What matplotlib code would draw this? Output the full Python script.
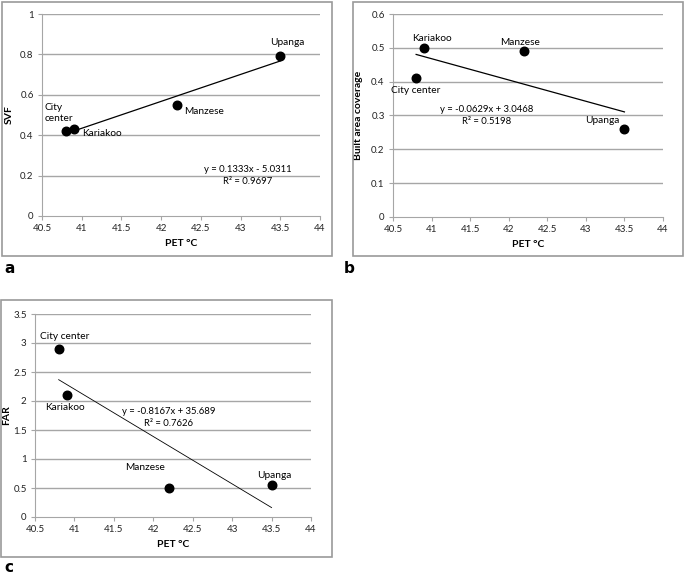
import numpy as np
import matplotlib.pyplot as plt
from matplotlib.patches import Rectangle

plt.rcParams['font.family'] = ['Lato', 'DejaVu Sans']

# data
sites = ["City center", "Kariakoo", "Manzese", "Upanga"]
pet = [40.8, 40.9, 42.2, 43.5]
svf = [0.42, 0.43, 0.55, 0.79]
bac = [0.41, 0.50, 0.49, 0.26]
far = [2.9, 2.1, 0.5, 0.55]

fits = {"a": (0.1333, -5.0311, 0.9697),
        "b": (-0.0629, 3.0468, 0.5198),
        "c": (-0.8167, 35.689, 0.7626)}

x_ticks = [40.5, 41, 41.5, 42, 42.5, 43, 43.5, 44]
x_ticklabels = ["40.5", "41", "41.5", "42", "42.5", "43", "43.5", "44"]

W, H = 685, 577
fig = plt.figure(figsize=(W / 100, H / 100), dpi=100)

def px_box(x0, y0, x1, y1):
    return [x0 / W, 1 - y1 / H, (x1 - x0) / W, (y1 - y0) / H]

grey = "#a6a6a6"

def panel(rect, frame, y, ylim, yticks, ylabel, ylab_x, fit, eq_xy, names, labels,
          letter, letter_xy, lw_fit):
    fx0, fy0, fx1, fy1 = frame
    fig.patches.append(Rectangle((fx0 / W, 1 - fy1 / H), (fx1 - fx0) / W, (fy1 - fy0) / H,
                                 transform=fig.transFigure, fill=False,
                                 edgecolor="#9a9a9a", lw=1.2))
    ax = fig.add_axes(px_box(*rect))
    ax.set_xlim(40.5, 44)
    ax.set_ylim(*ylim)
    ax.set_xticks(x_ticks)
    ax.set_xticklabels(x_ticklabels)
    ax.set_yticks(yticks)
    ax.set_yticklabels([f"{t:g}" for t in yticks])
    for t in yticks[1:]:
        ax.axhline(t, color=grey, lw=1.0, zorder=0)
    for s in ["top", "right"]:
        ax.spines[s].set_visible(False)
    ax.spines["left"].set_color(grey)
    ax.spines["bottom"].set_color(grey)
    ax.tick_params(axis="both", colors=grey, labelcolor="#222222", labelsize=7,
                   length=3, width=0.8, pad=3)
    ax.set_xlabel("PET °C", fontsize=7.5, fontweight="bold", labelpad=4)
    ax.set_ylabel(ylabel, fontsize=7.5, fontweight="bold")
    ax.yaxis.set_label_coords(ylab_x / (rect[2] - rect[0]), 0.5)

    m, c, r2 = fit
    xs = np.array([pet[0], pet[-1]])
    ax.plot(xs, m * xs + c, color="black", lw=lw_fit, zorder=2)
    ax.scatter(pet, y, s=38, color="black", zorder=3)
    sign = "-" if c < 0 else "+"
    ax.text(eq_xy[0], eq_xy[1], f"y = {m:.4g}x {sign} {abs(c):.5g}\nR² = {r2:.4f}",
            fontsize=6.8, ha="center", va="center", linespacing=1.4)
    for name, xi, yi, (dx, dy, ha) in zip(names, pet, y, labels):
        ax.annotate(name, (xi, yi), xytext=(dx, dy), textcoords="offset points",
                    fontsize=7.3, ha=ha, va="center", linespacing=1.3)
    fig.text(letter_xy[0] / W, 1 - letter_xy[1] / H, letter, fontsize=11,
             fontweight="bold", family="DejaVu Sans", ha="left", va="center")
    return ax

# panel a
panel((42, 14, 320, 216), (2, 2, 332, 256), svf, (0, 1), [0, 0.2, 0.4, 0.6, 0.8, 1],
      "SVF", -28, fits["a"], (43.09, 0.2),
      ["City\ncenter", "Kariakoo", "Manzese", "Upanga"],
      [(-15, 13, "left"), (6, -3, "left"), (5, -5, "left"), (5, 10, "center")],
      "a", (4, 268), 0.9)

# panel b
panel((393, 14, 663, 217), (353, 2, 683, 256), bac, (0, 0.6), [0, 0.1, 0.2, 0.3, 0.4, 0.5, 0.6],
      "Built area coverage", -30, fits["b"], (41.72, 0.30), sites,
      [(0, -9, "center"), (6, 7, "center"), (-3, 6, "center"), (-16, 6, "center")],
      "b", (344, 268), 0.9)

# panel c
panel((35, 314, 311, 517), (1, 300, 332, 557), far, (0, 3.5), [0, 0.5, 1, 1.5, 2, 2.5, 3, 3.5],
      "FAR", -24, fits["c"], (42.19, 1.72), sites,
      [(4, 9, "center"), (-1, -9, "center"), (-17, 15, "center"), (2, 7, "center")],
      "c", (4, 568), 0.6)

fig.savefig("out.png", dpi=100)
